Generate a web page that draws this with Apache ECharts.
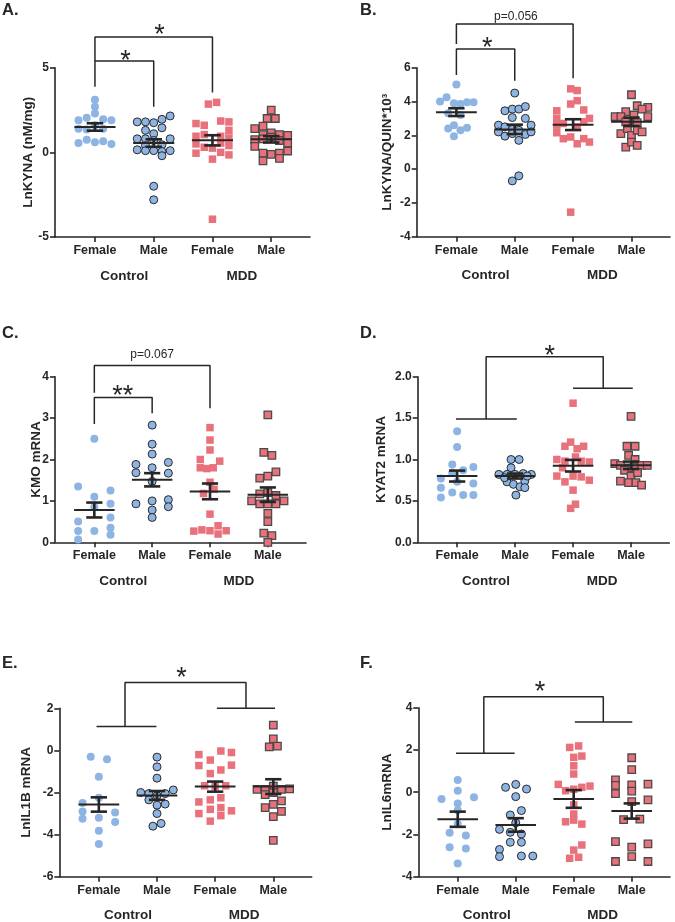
<!DOCTYPE html>
<html>
<head>
<meta charset="utf-8">
<script src="https://cdn.jsdelivr.net/npm/echarts@6/dist/echarts.min.js"></script>
<style>
html, body { margin: 0; padding: 0; background: #fff; }
#chart { width: 675px; height: 922px; }
</style>
</head>
<body>
<div id="chart"></div>
<script>
var categories = ['Female', 'Male', 'Female', 'Male'];
var groups = ['Control', 'MDD'];

// every point is [swarm column, value]
var kynaCtrlF = [[0,3.1],[0,2.7],[0,2.3],[-1,2.05],[-2,1.9],[1,1.95],[2,1.9],[0,1.6],[-2,1.4],[-1,1.35],[1,1.4],[-2,0.55],[-1,0.75],[0,0.6],[1,0.65],[2,0.5]];
var kynaCtrlM = [[2,2.15],[1,1.95],[0,1.75],[-1,1.8],[-2,1.8],[1,1.45],[-1,1.3],[0,1.1],[-2,0.8],[-1,0.8],[0,0.7],[2,0.8],[-1,0.4],[1,0.45],[-2,0.15],[-1,0.1],[0,0.1],[1,0.05],[2,0.1],[1,-0.2],[0,-2.0],[0,-2.8]];
var kynaMddF = [[-0.5,2.85],[0.5,2.95],[-2,1.7],[-1,1.6],[1,1.85],[2,1.8],[2,1.3],[-2,0.95],[-1,1.05],[1,0.95],[2,0.85],[-2,0.5],[-1,0.3],[0,0.25],[1,0.55],[2,0.4],[-2,-0.05],[0,-0.4],[1,0.0],[2,-0.15],[0,-3.95]];
var kynaMddM = [[0,2.5],[-0.5,2.0],[0.5,2.0],[-1,1.55],[-2,1.4],[0,1.15],[1,1.05],[2,1.0],[-1,1.05],[-2,0.75],[-1,0.8],[1,0.7],[2,0.55],[-2,0.35],[0,0.9],[2,0.08],[-1,-0.05],[0,-0.12],[1,-0.05],[-1,-0.5],[1,-0.35]];
var kynaMean = [1.5, 0.55, 0.71, 0.77];
var kynaSem = [0.22, 0.22, 0.3, 0.19];

var ratioCtrlF = [[0,5.0],[-2,4.0],[-1.2,4.25],[-0.3,3.9],[0.5,3.85],[1.3,3.95],[2.1,3.95],[-1,3.3],[0.5,3.2],[-1,2.4],[-0.3,2.6],[0.5,2.3],[1.3,2.45],[-0.3,1.95]];
var ratioCtrlM = [[0,4.5],[-1.2,3.45],[-0.3,3.55],[0.5,3.55],[1.3,3.7],[-0.3,3.05],[1.3,3.0],[-2,2.6],[-1.2,2.5],[-0.3,2.35],[0.5,2.3],[2,2.6],[-2,2.2],[-1.2,1.95],[-0.3,2.1],[1.3,2.05],[2,2.2],[0.5,1.7],[0.5,-0.4],[-0.3,-0.7]];
var ratioMddF = [[-0.3,4.75],[0.5,4.65],[0.5,4.05],[-0.3,3.85],[-2,3.45],[1.3,3.5],[-2,3.0],[2,3.0],[-1.2,2.7],[1.3,2.8],[-2,2.6],[0.5,2.5],[-2,2.15],[-1.2,1.8],[-0.3,1.9],[0.5,1.5],[1.3,1.8],[2,1.6],[-0.3,-2.55]];
var ratioMddM = [[0,4.4],[0.7,3.75],[2,3.65],[1.3,3.55],[-0.7,3.4],[-2,3.1],[-1.3,3.1],[0.3,3.2],[2,3.1],[-0.7,2.8],[0.7,2.75],[-1.3,2.1],[-0.5,2.4],[0,2.0],[0.7,2.3],[1.3,2.2],[-0.7,1.3],[0,1.6],[0.7,1.4]];
var ratioMean = [3.37, 2.35, 2.63, 2.8];
var ratioSem = [0.23, 0.28, 0.32, 0.25];

var kmoCtrlF = [[0,2.5],[-2,1.35],[0,1.1],[2,1.25],[2,0.93],[0,0.85],[-2,0.5],[2,0.6],[-2,0.27],[0,0.27],[2,0.35],[-2,0.07],[2,0.18]];
var kmoCtrlM = [[0,2.83],[0,2.37],[0,2.13],[-2,1.88],[0,1.8],[2,1.93],[-2,1.68],[2,1.67],[0,1.47],[-2,0.93],[0,1.0],[2,1.03],[0,0.78],[2,0.86],[0,0.6]];
var kmoMddF = [[0,2.77],[0,2.47],[0,2.23],[-1.2,2.0],[1.2,1.96],[-1.2,1.8],[-0.4,1.78],[0.4,1.8],[0,1.45],[-0.8,1.18],[0.5,1.28],[0,0.68],[-2,0.27],[-1,0.3],[0,0.28],[1,0.4],[1,0.2],[2,0.28]];
var kmoMddM = [[0,3.08],[-0.5,2.17],[0.5,2.1],[-1,1.55],[0,1.6],[1,1.7],[-1,1.17],[0,1.2],[1,1.13],[-2,1.0],[-1,0.93],[0,0.93],[1,0.93],[2,1.0],[0,0.7],[0,0.5],[-0.5,0.22],[0.5,0.16],[0,0.0]];
var kmoMean = [0.78, 1.51, 1.23, 1.15];
var kmoSem = [0.18, 0.16, 0.19, 0.175];

var kyatCtrlF = [[0,1.34],[0,1.15],[-0.6,0.94],[2,0.91],[0.75,0.87],[-2,0.77],[-0.6,0.84],[0,0.73],[-2,0.66],[2,0.71],[-0.6,0.6],[0.75,0.57],[2,0.57],[-2,0.54]];
var kyatCtrlM = [[-0.5,1.0],[0.5,1.0],[-0.5,0.9],[-2,0.82],[-1,0.82],[0,0.82],[1,0.83],[2,0.82],[-1,0.73],[-0.2,0.7],[0.6,0.67],[1.2,0.74],[1.2,0.66],[0.1,0.57],[-1.3,0.78],[1.5,0.8]];
var kyatMddF = [[0,1.68],[-0.3,1.21],[-1,1.16],[0.5,1.13],[1.3,1.16],[-2,1.0],[-1,0.98],[0.3,1.03],[1,0.98],[2,0.97],[-2,0.8],[-1,0.73],[0,0.8],[1,0.79],[2,0.75],[0,0.63],[0.3,0.46],[-0.3,0.41],[-1.3,0.9]];
var kyatMddM = [[0,1.52],[-0.5,1.16],[0.5,1.16],[-0.3,1.05],[0.5,1.0],[-2,0.95],[-1.3,0.93],[-0.3,0.9],[0.6,0.91],[1.3,0.93],[2,0.93],[-0.8,0.87],[0,0.8],[0.8,0.84],[-1.3,0.74],[-0.3,0.72],[0.6,0.72],[1.3,0.69]];
var kyatMean = [0.80, 0.80, 0.925, 0.93];
var kyatSem = [0.066, 0.03, 0.07, 0.045];

var il1bCtrlF = [[-1,-0.3],[1,-0.42],[0,-1.25],[0,-2.25],[-2,-2.5],[-2,-2.9],[2,-2.95],[-2,-3.25],[0,-3.2],[2,-3.4],[0,-3.82],[0,-4.45]];
var il1bCtrlM = [[0,-0.32],[0,-0.78],[0,-1.32],[-2,-2.0],[-1,-2.05],[0,-2.15],[1,-2.05],[2,-1.88],[-1,-2.35],[0,-2.6],[1,-2.55],[0,-3.0],[-0.5,-3.6],[0.5,-3.47]];
var il1bMddF = [[-2,-0.2],[0.7,-0.03],[2,-0.1],[-0.6,-0.46],[-2,-0.72],[2,-0.7],[0.7,-0.93],[-0.6,-1.1],[-1.3,-1.68],[0,-1.7],[1.3,-1.68],[-2,-2.45],[-0.6,-2.35],[0.7,-2.25],[-2,-3.0],[-0.6,-2.8],[0.7,-2.72],[2,-2.87],[0.7,-3.1],[-0.6,-3.36]];
var il1bMddM = [[0,1.2],[0,0.55],[-0.5,0.17],[0.5,0.2],[-2,-1.85],[-1,-1.85],[0,-1.7],[1,-1.85],[2,-1.83],[-1,-2.1],[0,-2.0],[1,-2.4],[0,-2.56],[-1,-2.72],[1,-2.9],[0,-3.15],[0,-4.27]];
var il1bMean = [-2.57, -2.14, -1.72, -1.72];
var il1bSem = [0.34, 0.21, 0.24, 0.35];

var il6CtrlF = [[0,0.58],[0,0.07],[-2,-0.32],[2,-0.24],[0,-0.53],[0,-0.85],[0,-1.5],[-1,-1.92],[1,-2.05],[-1,-2.61],[1,-2.66],[0,-3.37]];
var il6CtrlM = [[-1.25,0.23],[0,0.37],[1.33,0.15],[0,-0.21],[-0.67,-1.08],[0.7,-0.87],[-2,-1.76],[-0.67,-1.9],[0.7,-1.98],[-0.67,-2.37],[0.7,-2.37],[-2,-2.71],[-2,-3.05],[0.7,-3.02],[2.1,-3.02],[0,-1.45]];
var il6MddF = [[-0.5,2.12],[0.6,2.19],[0,1.65],[1,1.71],[0,1.25],[0,0.86],[-1.9,0.37],[-1,0.07],[0,0.14],[1,0.23],[2,0.29],[0,-0.6],[0,-1.03],[-1,-1.4],[0,-1.32],[1,-1.51],[1,-2.5],[0,-2.74],[-0.5,-3.13],[0.6,-3.08]];
var il6MddM = [[0,1.63],[0,1.07],[-2,0.58],[-2,0.32],[-2,-0.07],[0,0.35],[0,0.05],[0,-0.45],[2,0.38],[2,-0.36],[-1,-1.3],[1,-1.27],[-2,-2.34],[0,-2.6],[2,-2.45],[-2,-3.28],[0,-3.05],[2,-3.28]];
var il6Mean = [-1.28, -1.55, -0.32, -0.89];
var il6Sem = [0.36, 0.32, 0.42, 0.36];

// significance brackets (paths in data space) and their labels
var kynaBrackets = [[[0,3.88],[0,5.39],[1,5.39],[1,2.70]], [[0,5.39],[0,6.81],[2,6.81],[2,3.53]]];
var ratioBrackets = [[[0,5.57],[0,7.11],[1,7.11],[1,5.23]], [[0,7.40],[0,8.59],[2,8.59],[2,5.37]]];
var kmoBrackets = [[[0,2.86],[0,3.50],[1,3.50],[1,3.12]], [[0,3.61],[0,4.27],[2,4.27],[2,3.24]]];
var kyatBrackets = [[[-0.02,1.49],[1.03,1.49]], [[0.5,1.49],[0.5,2.24],[2.52,2.24],[2.52,1.86]], [[2.0,1.86],[3.03,1.86]]];
var il1bBrackets = [[[-0.04,1.13],[0.99,1.13]], [[0.45,1.13],[0.45,3.22],[2.53,3.22],[2.53,2.0]], [[2.03,2.0],[3.03,2.0]]];
var il6Brackets = [[[-0.03,1.84],[0.98,1.84]], [[0.45,1.84],[0.45,4.52],[2.51,4.52],[2.51,3.32]], [[2.02,3.32],[3.01,3.32]]];

var kynaNotes = [[0.52,5.79,'*'], [1.1,7.31,'*']];
var ratioNotes = [[0.53,7.54,'*'], [1.02,9.02,'p=0.056']];
var kmoNotes = [[0.49,3.70,'**'], [1.0,4.52,'p=0.067']];
var kyatNotes = [[1.6,2.33,'*']];
var il1bNotes = [[1.42,3.74,'*']];
var il6Notes = [[1.42,5.03,'*']];

var BLUE = '#8db4e2';
var RED = '#e8717b';
var INK = '#262626';
var FONT = 'Liberation Sans, Arial, sans-serif';
var JIT = 0.14;

var markStyles = [
	{ symbol: 'circle', size: 8, color: BLUE, border: BLUE, bw: 0 },
	{ symbol: 'circle', size: 8, color: BLUE, border: '#2a2a2a', bw: 1 },
	{ symbol: 'rect', size: 7.5, color: RED, border: RED, bw: 0 },
	{ symbol: 'rect', size: 7.5, color: RED, border: '#4a4a4a', bw: 1.3 }
];

var panels = [
	{ letter: 'A.', name: 'LnKYNA (nM/mg)', pts: [kynaCtrlF, kynaCtrlM, kynaMddF, kynaMddM], mean: kynaMean, sem: kynaSem,
	  brackets: kynaBrackets, notes: kynaNotes, grid: [55, 67.7, 255, 169.3], y: [-5, 5, 5], gap: 20, pos: [2, 2] },
	{ letter: 'B.', name: 'LnKYNA/QUIN*10\u00b3', pts: [ratioCtrlF, ratioCtrlM, ratioMddF, ratioMddM], mean: ratioMean, sem: ratioSem,
	  brackets: ratioBrackets, notes: ratioNotes, grid: [416.7, 67.7, 253.3, 169], y: [-4, 6, 2], gap: 22, pos: [360, 2] },
	{ letter: 'C.', name: 'KMO mRNA', pts: [kmoCtrlF, kmoCtrlM, kmoMddF, kmoMddM], mean: kmoMean, sem: kmoSem,
	  brackets: kmoBrackets, notes: kmoNotes, grid: [55, 376.7, 251, 165.6], y: [0, 4, 1], gap: 12, pos: [2, 325] },
	{ letter: 'D.', name: 'KYAT2 mRNA', pts: [kyatCtrlF, kyatCtrlM, kyatMddF, kyatMddM], mean: kyatMean, sem: kyatSem,
	  brackets: kyatBrackets, notes: kyatNotes, grid: [417.7, 376.7, 251.6, 165.6], y: [0, 2, 0.5], gap: 29, pos: [360, 325], fixed: 1 },
	{ letter: 'E.', name: 'LnIL1B mRNA', pts: [il1bCtrlF, il1bCtrlM, il1bMddF, il1bMddM], mean: il1bMean, sem: il1bSem,
	  brackets: il1bBrackets, notes: il1bNotes, grid: [59.3, 708.3, 252.4, 168.4], y: [-6, 2, 2], gap: 26, pos: [2, 655] },
	{ letter: 'F.', name: 'LnIL6mRNA', pts: [il6CtrlF, il6CtrlM, il6MddF, il6MddM], mean: il6Mean, sem: il6Sem,
	  brackets: il6Brackets, notes: il6Notes, grid: [418.3, 707.7, 251.7, 169], y: [-4, 4, 2], gap: 24, pos: [360, 655] }
];

var option = {
	animation: false,
	backgroundColor: '#fff',
	textStyle: { fontFamily: FONT },
	title: [],
	grid: [],
	xAxis: [],
	yAxis: [],
	series: []
};

panels.forEach(function (p, i) {
	option.title.push({
		text: p.letter, left: p.pos[0], top: p.pos[1], padding: 0,
		textStyle: { fontFamily: FONT, fontSize: 16.5, fontWeight: 'bold', color: INK }
	});
	option.grid.push({
		left: p.grid[0], top: p.grid[1], width: p.grid[2], height: p.grid[3],
		containLabel: false, outerBoundsMode: 'none'
	});
	option.xAxis.push({
		type: 'value', gridIndex: i, min: -0.68, max: 3.66,
		axisLine: { show: true, onZero: false, lineStyle: { color: INK, width: 1.6 } },
		axisTick: { show: true, length: 5, customValues: [0, 1, 2, 3], lineStyle: { color: INK, width: 1.6 } },
		axisLabel: {
			customValues: [0, 1, 2, 3], margin: 7, color: INK, fontSize: 12.5, fontWeight: 'bold', fontFamily: FONT,
			formatter: function (v) { return categories[Math.round(v)]; }
		},
		splitLine: { show: false }
	});
	option.xAxis.push({
		type: 'value', gridIndex: i, min: -0.68, max: 3.66, position: 'bottom',
		axisLine: { show: false, onZero: false }, axisTick: { show: false },
		axisLabel: {
			customValues: [0.5, 2.5], margin: 32, color: INK, fontSize: 13.5, fontWeight: 'bold', fontFamily: FONT,
			formatter: function (v) { return groups[Math.round((v - 0.5) / 2)]; }
		},
		splitLine: { show: false }
	});
	option.yAxis.push({
		type: 'value', gridIndex: i, min: p.y[0], max: p.y[1], interval: p.y[2],
		name: p.name, nameLocation: 'middle', nameGap: p.gap, nameMoveOverlap: false,
		nameTextStyle: { fontSize: 13.5, fontWeight: 'bold', color: INK, fontFamily: FONT },
		axisLine: { show: true, onZero: false, lineStyle: { color: INK, width: 1.6 } },
		axisTick: { show: true, length: 5, lineStyle: { color: INK, width: 1.6 } },
		axisLabel: {
			margin: 6, color: INK, fontSize: 12, fontWeight: 'bold', fontFamily: FONT,
			formatter: function (v) { return p.fixed ? v.toFixed(p.fixed) : String(v); }
		},
		splitLine: { show: false }
	});

	p.pts.forEach(function (list, g) {
		var st = markStyles[g];
		option.series.push({
			type: 'scatter', xAxisIndex: 2 * i, yAxisIndex: i,
			symbol: st.symbol, symbolSize: st.size, silent: true,
			itemStyle: { color: st.color, borderColor: st.border, borderWidth: st.bw, opacity: 1 },
			data: list.map(function (d) { return [g + d[0] * JIT, d[1]]; })
		});
	});

	option.series.push({
		type: 'custom', xAxisIndex: 2 * i, yAxisIndex: i, z: 5, silent: true,
		dimensions: ['x', 'mean', 'sem'], encode: { x: 0, y: 1 },
		data: p.mean.map(function (m, g) { return [g, m, p.sem[g]]; }),
		renderItem: function (params, api) {
			var g = api.value(0), m = api.value(1), s = api.value(2);
			var ml = api.coord([g - 0.35, m]), mr = api.coord([g + 0.35, m]);
			var t = api.coord([g, m + s]), b = api.coord([g, m - s]);
			var tl = api.coord([g - 0.14, m + s]), tr = api.coord([g + 0.14, m + s]);
			var bl = api.coord([g - 0.14, m - s]), br = api.coord([g + 0.14, m - s]);
			var bar = { stroke: INK, lineWidth: 2.6 };
			return { type: 'group', children: [
				{ type: 'line', shape: { x1: ml[0], y1: ml[1], x2: mr[0], y2: mr[1] }, style: { stroke: INK, lineWidth: 2 } },
				{ type: 'line', shape: { x1: t[0], y1: t[1], x2: b[0], y2: b[1] }, style: bar },
				{ type: 'line', shape: { x1: tl[0], y1: tl[1], x2: tr[0], y2: tr[1] }, style: bar },
				{ type: 'line', shape: { x1: bl[0], y1: bl[1], x2: br[0], y2: br[1] }, style: bar }
			] };
		}
	});

	p.brackets.forEach(function (path) {
		option.series.push({
			type: 'line', xAxisIndex: 2 * i, yAxisIndex: i, data: path, symbol: 'none',
			clip: false, silent: true, lineStyle: { color: INK, width: 1.5 }
		});
	});

	option.series.push({
		type: 'custom', xAxisIndex: 2 * i, yAxisIndex: i, silent: true,
		encode: { x: 0, y: 1 },
		data: p.notes.map(function (n) { return [n[0], n[1]]; }),
		renderItem: function (params, api) {
			var n = p.notes[params.dataIndex];
			var c = api.coord([api.value(0), api.value(1)]);
			var star = n[2].charAt(0) === '*';
			return {
				type: 'text', x: c[0], y: c[1] + (star ? 7 : 0),
				style: {
					text: n[2], fill: INK,
					font: star ? '27px ' + FONT : '12px ' + FONT,
					align: 'center', verticalAlign: 'middle',
					textAlign: 'center', textVerticalAlign: 'middle'
				}
			};
		}
	});
});

var myChart = echarts.init(document.getElementById('chart'), null, { renderer: 'canvas' });
myChart.setOption(option);
</script>
</body>
</html>
